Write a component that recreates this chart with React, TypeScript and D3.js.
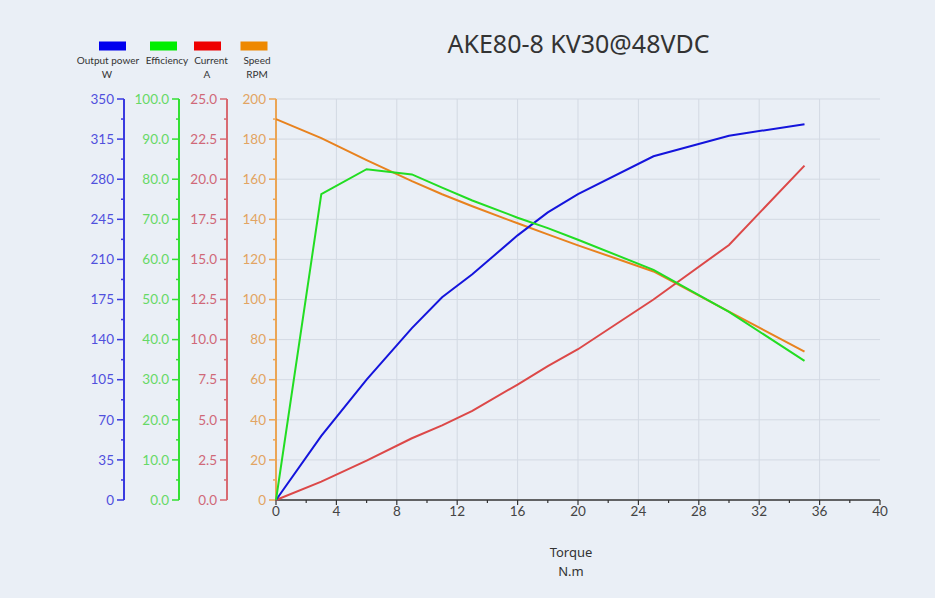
import React from "react";
import * as d3 from "d3";

const torque = [0, 3, 6, 9, 11, 13, 16, 18, 20, 25, 30, 35];
const outputPower = [0, 56, 105, 150, 177, 197, 231, 251, 267, 300, 318, 328];
const efficiency = [0, 76.3, 82.5, 81.2, 77.9, 74.7, 70.4, 67.8, 64.9, 57.4, 46.9, 34.7];
const current = [0, 1.15, 2.45, 3.85, 4.65, 5.55, 7.2, 8.35, 9.4, 12.5, 15.9, 20.85];
const speed = [190, 180.5, 169.5, 159, 152.5, 146.5, 138, 132.5, 127, 114, 94, 74];

const powerTicks = [0, 35, 70, 105, 140, 175, 210, 245, 280, 315, 350];
const effTicks = [0, 10, 20, 30, 40, 50, 60, 70, 80, 90, 100];
const currentTicks = [0, 2.5, 5, 7.5, 10, 12.5, 15, 17.5, 20, 22.5, 25];
const speedTicks = [0, 20, 40, 60, 80, 100, 120, 140, 160, 180, 200];
const torqueTicks = [0, 4, 8, 12, 16, 20, 24, 28, 32, 36, 40];

const legendItems = [
  { name: "Output power", unit: "W", color: "#0000ee" },
  { name: "Efficiency", unit: "", color: "#00ee00" },
  { name: "Current", unit: "A", color: "#ee0000" },
  { name: "Speed", unit: "RPM", color: "#ee8800" },
];

const W = 935;
const H = 598;
const TOP = 99;
const BOTTOM = 500;
const LEFT = 276;
const RIGHT = 880;
const FONT = "Lato, 'Open Sans', sans-serif";

export default function App() {
  const x = d3.scaleLinear().domain([0, 40]).range([LEFT, RIGHT]);
  const yPower = d3.scaleLinear().domain([0, 350]).range([BOTTOM, TOP]);
  const yEff = d3.scaleLinear().domain([0, 100]).range([BOTTOM, TOP]);
  const yCur = d3.scaleLinear().domain([0, 25]).range([BOTTOM, TOP]);
  const ySpeed = d3.scaleLinear().domain([0, 200]).range([BOTTOM, TOP]);

  const mk = (vals: number[], s: d3.ScaleLinear<number, number>) =>
    d3
      .line<number>()
      .x((_, i) => x(torque[i]))
      .y((v) => s(v))(vals) || "";

  const axes = [
    { xPos: 124, scale: yPower, ticks: powerTicks, fmt: d3.format("d"), line: "#3a3ae0", text: "#5050dd" },
    { xPos: 179, scale: yEff, ticks: effTicks, fmt: d3.format(".1f"), line: "#33e033", text: "#66d966" },
    { xPos: 227, scale: yCur, ticks: currentTicks, fmt: d3.format(".1f"), line: "#d86a72", text: "#d06878" },
    { xPos: 276, scale: ySpeed, ticks: speedTicks, fmt: d3.format("d"), line: "#eba555", text: "#e2a462" },
  ];

  return (
    <svg
      width={W}
      height={H}
      style={{ position: "absolute", left: 0, top: 0, background: "#eaeff6" }}
      fontFamily={FONT}
    >
      <rect x={0} y={0} width={W} height={H} fill="#eaeff6" />
      {speedTicks.slice(1).map((t) => (
        <line key={"h" + t} x1={LEFT} x2={RIGHT} y1={ySpeed(t)} y2={ySpeed(t)} stroke="#d3d9e3" strokeWidth={1} />
      ))}
      {torqueTicks.slice(1, -1).map((t) => (
        <line key={"v" + t} x1={x(t)} x2={x(t)} y1={TOP} y2={BOTTOM} stroke="#d3d9e3" strokeWidth={1} />
      ))}

      {axes.map((a, ai) => {
        const minor: number[] = [];
        for (let i = 0; i < a.ticks.length - 1; i++) minor.push((a.ticks[i] + a.ticks[i + 1]) / 2);
        return (
          <g key={"ax" + ai}>
            <line x1={a.xPos} x2={a.xPos} y1={TOP} y2={BOTTOM} stroke={a.line} strokeWidth={2} />
            {a.ticks.map((t) => (
              <g key={t}>
                <line x1={a.xPos - 7} x2={a.xPos} y1={a.scale(t)} y2={a.scale(t)} stroke={a.line} strokeWidth={1.5} />
                <text
                  x={a.xPos - 10}
                  y={a.scale(t)}
                  dy="0.35em"
                  textAnchor="end"
                  fontSize={13.5}
                  fill={a.text}
                >
                  {a.fmt(t)}
                </text>
              </g>
            ))}
            {minor.map((t) => (
              <line key={"m" + t} x1={a.xPos - 3} x2={a.xPos + 1} y1={a.scale(t)} y2={a.scale(t)} stroke={a.line} strokeWidth={1.5} />
            ))}
          </g>
        );
      })}

      <line x1={LEFT} x2={RIGHT} y1={BOTTOM} y2={BOTTOM} stroke="#333" strokeWidth={1.5} />
      {torqueTicks.map((t) => (
        <g key={"xt" + t}>
          <line x1={x(t)} x2={x(t)} y1={BOTTOM} y2={BOTTOM + 5} stroke="#333" strokeWidth={1.2} />
          <text x={x(t)} y={BOTTOM + 16} textAnchor="middle" fontSize={13.5} fill="#444">
            {t}
          </text>
        </g>
      ))}
      {torqueTicks.slice(0, -1).map((t) => (
        <line key={"xm" + t} x1={x(t + 2)} x2={x(t + 2)} y1={BOTTOM} y2={BOTTOM + 3} stroke="#333" strokeWidth={1.2} />
      ))}
      <text x={571} y={557} textAnchor="middle" fontSize={13} fill="#333" fontFamily="'Noto Sans', sans-serif">
        Torque
      </text>
      <text x={571} y={576} textAnchor="middle" fontSize={13} fill="#333" fontFamily="'Noto Sans', sans-serif">
        N.m
      </text>

      <path d={mk(speed, ySpeed)} fill="none" stroke="#e8821e" strokeWidth={2} />
      <path d={mk(current, yCur)} fill="none" stroke="#dc4848" strokeWidth={2} />
      <path d={mk(outputPower, yPower)} fill="none" stroke="#1414dc" strokeWidth={2} />
      <path d={mk(efficiency, yEff)} fill="none" stroke="#22dd22" strokeWidth={2} />

      <text x={578.5} y={53} textAnchor="middle" fontSize={25} fill="#333" fontFamily="'Noto Sans', sans-serif">
        AKE80-8 KV30@48VDC
      </text>

      {legendItems.map((it, i) => {
        const cx = [112.5, 163.5, 207.5, 254][i];
        const tx = [108, 167, 211, 257][i];
        return (
          <g key={it.name}>
            <rect x={cx - 13.5} y={41.5} width={27} height={9} fill={it.color} />
            <text x={tx} y={64} textAnchor="middle" fontSize={10} fill="#333">
              {it.name}
            </text>
            {it.unit && (
              <text x={[107, 0, 207, 257][i]} y={78} textAnchor="middle" fontSize={10} fill="#333">
                {it.unit}
              </text>
            )}
          </g>
        );
      })}
    </svg>
  );
}
